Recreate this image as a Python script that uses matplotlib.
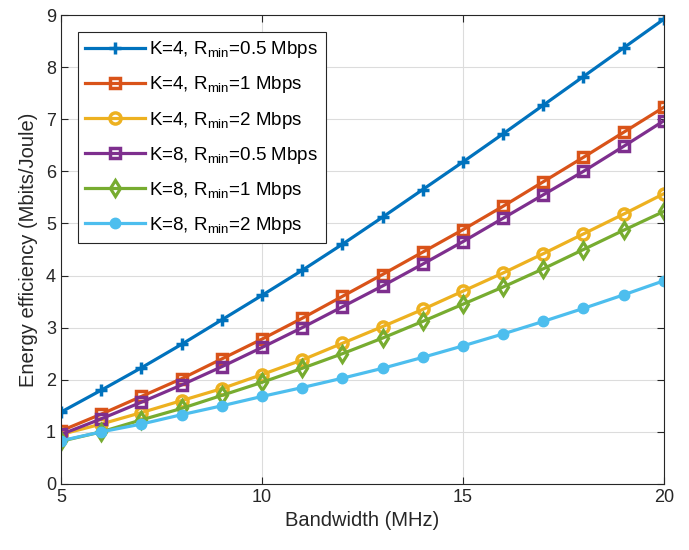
import matplotlib
matplotlib.use("Agg")
import matplotlib.pyplot as plt

plt.rcParams['font.family'] = ['Liberation Sans', 'DejaVu Sans']
plt.rcParams['mathtext.fontset'] = 'custom'
plt.rcParams['mathtext.rm'] = 'Liberation Sans'
plt.rcParams['mathtext.it'] = 'Liberation Sans:italic'

bandwidth = list(range(5, 21))

k4_r05 = [1.38, 1.80, 2.23, 2.68, 3.15, 3.62, 4.10, 4.60, 5.12, 5.65, 6.18, 6.72, 7.27, 7.82, 8.37, 8.92]
k4_r1 = [1.02, 1.34, 1.68, 2.02, 2.40, 2.78, 3.18, 3.60, 4.02, 4.45, 4.88, 5.33, 5.80, 6.27, 6.75, 7.23]
k4_r2 = [0.95, 1.15, 1.37, 1.60, 1.83, 2.10, 2.38, 2.70, 3.02, 3.35, 3.70, 4.05, 4.42, 4.80, 5.18, 5.57]
k8_r05 = [0.95, 1.25, 1.57, 1.90, 2.25, 2.62, 3.00, 3.40, 3.80, 4.22, 4.65, 5.10, 5.55, 6.00, 6.48, 6.97]
k8_r1 = [0.82, 1.00, 1.23, 1.45, 1.70, 1.95, 2.22, 2.50, 2.80, 3.12, 3.45, 3.78, 4.13, 4.50, 4.87, 5.23]
k8_r2 = [0.83, 1.00, 1.15, 1.33, 1.50, 1.68, 1.85, 2.03, 2.22, 2.43, 2.65, 2.88, 3.12, 3.37, 3.63, 3.90]

labels = [r'K=4, R$_{\mathrm{min}}$=0.5 Mbps', r'K=4, R$_{\mathrm{min}}$=1 Mbps',
          r'K=4, R$_{\mathrm{min}}$=2 Mbps', r'K=8, R$_{\mathrm{min}}$=0.5 Mbps',
          r'K=8, R$_{\mathrm{min}}$=1 Mbps', r'K=8, R$_{\mathrm{min}}$=2 Mbps']

fig = plt.figure(figsize=(6.89, 5.5), dpi=100)
ax = fig.add_axes([0.0885, 0.12, 0.875, 0.8527])

# matlab default colours
ax.plot(bandwidth, k4_r05, '-+', color='#0072BD', lw=2.3, ms=9, mew=2.5, label=labels[0])
ax.plot(bandwidth, k4_r1, '-s', color='#D95319', lw=2.3, ms=7, mew=2.5, mfc='none', label=labels[1])
ax.plot(bandwidth, k4_r2, '-o', color='#EDB120', lw=2.3, ms=8, mew=2.5, mfc='none', label=labels[2])
ax.plot(bandwidth, k8_r05, '-s', color='#7E2F8E', lw=2.3, ms=7, mew=2.5, mfc='none', label=labels[3])
ax.plot(bandwidth, k8_r1, '-d', color='#77AC30', lw=2.3, ms=8.5, mew=2.3, mfc='none', label=labels[4])
ax.plot(bandwidth, k8_r2, '-o', color='#4DBEEE', lw=2.3, ms=7.5, mew=1, label=labels[5])

ax.set_xlim(5, 20)
ax.set_ylim(0, 9)
ax.set_xticks([5, 10, 15, 20])
ax.set_yticks(range(0, 10))
ax.grid(True, color='#dcdcdc', lw=0.8)
ax.set_axisbelow(True)
ax.tick_params(direction='in', labelsize=13, colors='#262626', top=True, right=True, length=5)
for s in ax.spines.values():
    s.set_color('#262626')
    s.set_linewidth(0.8)

ax.set_xlabel('Bandwidth (MHz)', fontsize=14.5, color='#262626', labelpad=4)
ax.set_ylabel('Energy efficiency (Mbits/Joule)', fontsize=14.5, color='#262626', labelpad=6)

leg = ax.legend(loc='upper left', fontsize=13.5, fancybox=False, edgecolor='#262626',
                framealpha=1, handlelength=3.2, borderaxespad=0.9, labelspacing=0.75,
                handletextpad=0.2, borderpad=0.4)
leg.get_frame().set_linewidth(0.8)

fig.savefig('out.png', dpi=100)
